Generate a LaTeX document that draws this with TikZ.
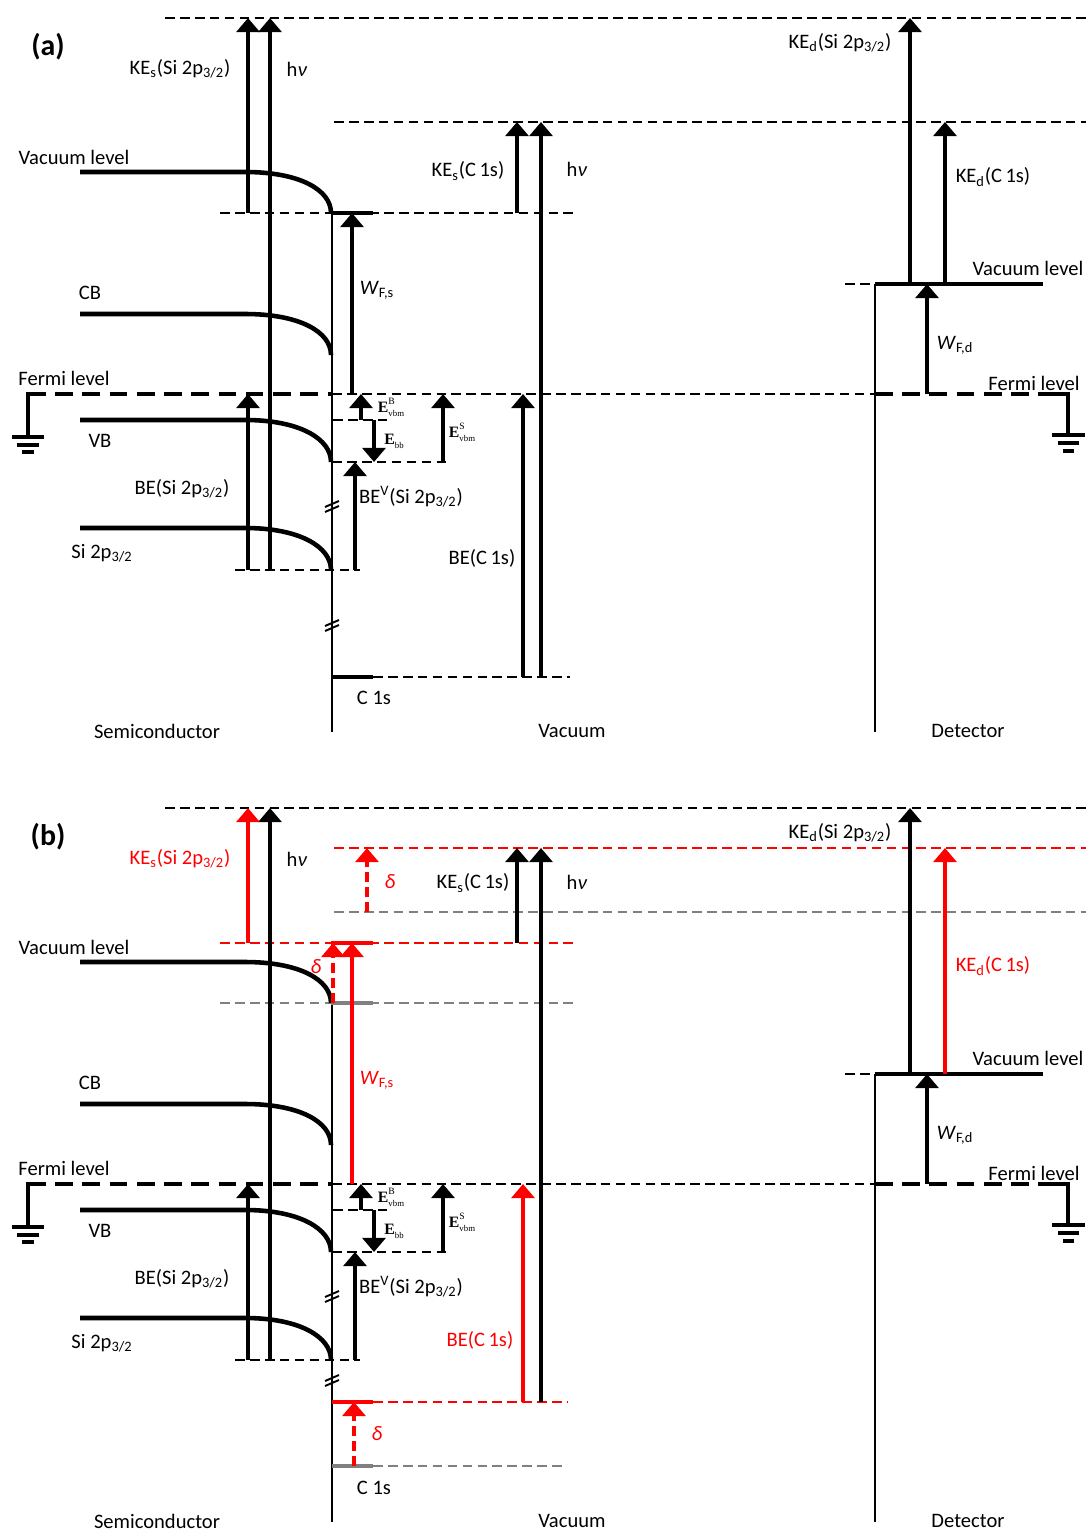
\documentclass[tikz,border=0pt]{standalone}
\usepackage{fontspec}
\setmainfont{Carlito}
\newfontfamily\tnr{Liberation Serif}
\usetikzlibrary{arrows.meta}
\definecolor{myred}{RGB}{255,0,0}
\definecolor{mygray}{RGB}{128,128,128}
\newcommand\Evbm[1]{{\tnr\fontsize{9}{10}\selectfont\textbf{E}\rlap{\raisebox{4.5pt}{\fontsize{5.5}{6}\selectfont #1}}\raisebox{-2.2pt}{\fontsize{5}{6}\selectfont vbm}}}
\newcommand\Ebbl{{\tnr\fontsize{9}{10}\selectfont\textbf{E}\raisebox{-2.2pt}{\fontsize{5}{6}\selectfont bb}}}
\newcommand\sitwo{Si 2p\textsubscript{3/2}}
\newcommand\hnu{h\textit{ν}}
\tikzset{
  lvl/.style={line width=2.6pt},
  iface/.style={line width=1.1pt},
  tdash/.style={line width=0.85pt, dash pattern=on 5.5pt off 3pt},
  fdash/.style={line width=2.3pt, dash pattern=on 10pt off 5.5pt},
  gnd/.style={line width=2.3pt},
  arr/.style={line width=2.2pt, -{Triangle[width=13pt,length=8pt]}},
  darr/.style={arr, dash pattern=on 5.5pt off 3pt},
  lbl/.style={inner sep=0pt, font=\fontsize{11.7}{13}\selectfont},
  tag/.style={inner sep=0pt, font=\fontsize{17}{19}\selectfont\bfseries},
}
\newcommand\commonpart{%
  \draw[tdash] (165,18) -- (1086,18);
  % bands
  \draw[lvl] (80,172) -- (245,172) .. controls (300,172) and (331,190) .. (331,213);
  \draw[lvl] (80,314) -- (245,314) .. controls (300,314) and (331,332) .. (331,355);
  \draw[lvl] (80,420) -- (245,420) .. controls (300,420) and (331,439) .. (331,462);
  \draw[lvl] (80,528) -- (245,528) .. controls (300,528) and (331,547) .. (331,570);
  % interface
  \draw[iface] (332,213) -- (332,732);
  \draw[iface] (325,507) -- (339,501) (325,512) -- (339,506);
  % Fermi level
  \draw[fdash] (28,394) -- (332,394);
  \draw[tdash] (332,394) -- (875,394);
  \draw[fdash] (875,394) -- (1047,394);
  \draw[gnd] (42,394) -- (28,394) -- (28,437);
  \draw[gnd] (12,437) -- (44,437) (17,445) -- (39,445) (22,452) -- (34,452);
  \draw[gnd] (1047,394) -- (1068,394) -- (1068,435);
  \draw[gnd] (1052,435) -- (1085,435) (1058,443) -- (1079,443) (1063,451) -- (1074,451);
  % short dashed lines
  \draw[tdash] (333,420) -- (390,420);
  \draw[tdash] (332,462) -- (447,462);
  \draw[tdash] (235,570) -- (360,570);
  % arrows
  \draw[arr] (270,570) -- (270,18);
  \draw[arr] (248,570) -- (248,394);
  \draw[arr] (361,420) -- (361,394);
  \draw[arr] (374,420) -- (374,462);
  \draw[arr] (443,462) -- (443,394);
  \draw[arr] (355,570) -- (355,462);
  % detector
  \draw[iface] (875,284) -- (875,732);
  \draw[tdash] (845,284) -- (875,284);
  \draw[arr] (910,284) -- (910,18);
  \draw[arr] (927,394) -- (927,284);
  \draw[lvl] (875,284) -- (1043,284);
  % labels
  \node[lbl] (hv1) at (297,69) {\hnu};
  \node[lbl] (vac) at (74,157) {Vacuum level};
  \node[lbl] (cb) at (90,293) {CB};
  \node[lbl] (fl) at (64,378) {Fermi level};
  \node[lbl] (vb) at (100,441) {VB};
  \node[lbl] (besi) at (182,489) {BE(\sitwo)};
  \node[lbl] (si) at (102,553) {\sitwo};
  \node[inner sep=0pt] (eb) at (391,407) {\Evbm{B}};
  \node[inner sep=0pt] (ebb) at (394,441) {\Ebbl};
  \node[inner sep=0pt] (es) at (462,432) {\Evbm{S}};
  \node[lbl] (bev) at (411,497) {BE\textsuperscript{V}(\sitwo)};
  \node[lbl] (c1s) at (374,698) {C 1s};
  \node[lbl] (semi) at (157,731) {Semiconductor};
  \node[lbl] (vacu) at (572,731) {Vacuum};
  \node[lbl] (det) at (968,731) {Detector};
  \node[lbl] (kedsi) at (840,43) {KE\textsubscript{d}(\sitwo)};
  \node[lbl] (vacd) at (1028,268) {Vacuum level};
  \node[lbl] (wfd) at (955,345) {\textit{W}\textsubscript{F,d}};
  \node[lbl] (fld) at (1034,383) {Fermi level};
}
\begin{document}
\begin{tikzpicture}[x=0.02cm,y=-0.02cm]
\useasboundingbox[fill=white] (0,0) rectangle (1086,1531);
% ================= panel (a)
\node[tag] (ta) at (48,47) {(a)};
\draw[tdash] (334,122) -- (1086,122);
\draw[tdash] (220,213) -- (574,213);
\draw[tdash] (373,677) -- (570,677);
\commonpart
\draw[lvl] (331,213) -- (373,213);
\draw[lvl] (332,677) -- (373,677);
\draw[iface] (325,626) -- (339,620) (325,631) -- (339,625);
\draw[arr] (248,213) -- (248,18);
\draw[arr] (352,394) -- (352,213);
\draw[arr] (517,213) -- (517,122);
\draw[arr] (541,677) -- (541,122);
\draw[arr] (523,677) -- (523,394);
\draw[arr] (945,284) -- (945,122);
\node[lbl] (kesa) at (180,69) {KE\textsubscript{s}(\sitwo)};
\node[lbl] (kesca) at (468,171) {KE\textsubscript{s}(C\,1s)};
\node[lbl] (hv2a) at (577,169) {\hnu};
\node[lbl] (wfsa) at (377,290) {\textit{W}\textsubscript{F,s}};
\node[lbl] (beca) at (482,558) {BE(C\,1s)};
\node[lbl] (kedca) at (993,177) {KE\textsubscript{d}(C\,1s)};
% ================= panel (b)
\node[tag] (tb) at (48,837) {(b)};
\draw[tdash, myred] (334,848) -- (1086,848);
\draw[tdash, mygray] (334,912) -- (1086,912);
\draw[tdash, myred] (220,943) -- (574,943);
\draw[tdash, mygray] (220,1003) -- (574,1003);
\draw[tdash, myred] (373,1402) -- (568,1402);
\draw[tdash, mygray] (373,1466) -- (565,1466);
\begin{scope}[shift={(0,790)}]
\commonpart
\end{scope}
\draw[lvl, myred] (331,943) -- (373,943);
\draw[lvl, mygray] (331,1003) -- (373,1003);
\draw[lvl, myred] (332,1402) -- (373,1402);
\draw[lvl, mygray] (332,1466) -- (373,1466);
\draw[iface] (325,1381) -- (339,1375) (325,1386) -- (339,1380);
\draw[arr, myred] (248,943) -- (248,808);
\draw[darr, myred] (367,912) -- (367,848);
\draw[darr, myred] (333,1003) -- (333,943);
\draw[arr, myred] (352,1184) -- (352,943);
\draw[arr] (517,943) -- (517,848);
\draw[arr] (541,1402) -- (541,848);
\draw[arr, myred] (523,1402) -- (523,1184);
\draw[darr, myred] (354,1466) -- (354,1402);
\draw[arr, myred] (945,1074) -- (945,848);
\node[lbl, text=myred] (kesb) at (180,859) {KE\textsubscript{s}(\sitwo)};
\node[lbl, text=myred] (d1) at (390,882) {\textit{δ}};
\node[lbl, text=myred] (d2) at (316,967) {\textit{δ}};
\node[lbl, text=myred] (d3) at (377,1434) {\textit{δ}};
\node[lbl] (kescb) at (473,883) {KE\textsubscript{s}(C\,1s)};
\node[lbl] (hv2b) at (577,882) {\hnu};
\node[lbl, text=myred] (wfsb) at (377,1080) {\textit{W}\textsubscript{F,s}};
\node[lbl, text=myred] (becb) at (480,1340) {BE(C\,1s)};
\node[lbl, text=myred] (kedcb) at (993,966) {KE\textsubscript{d}(C\,1s)};
\end{tikzpicture}
\end{document}
